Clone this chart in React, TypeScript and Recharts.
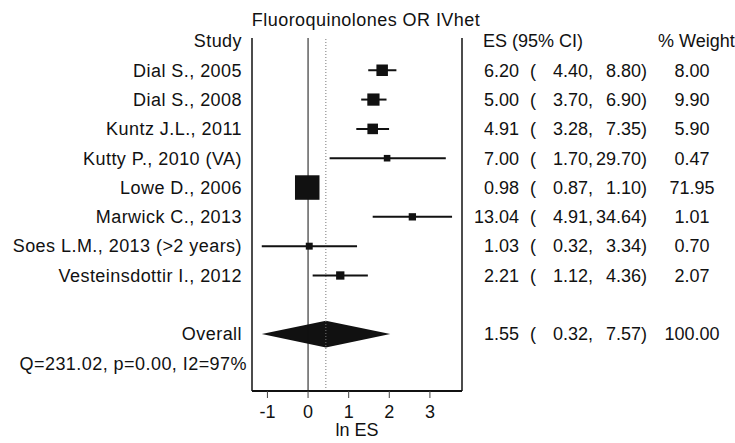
import { ScatterChart, Scatter, XAxis, YAxis, ReferenceLine, ReferenceArea } from 'recharts';

const studies = [
  'Dial S., 2005',
  'Dial S., 2008',
  'Kuntz J.L., 2011',
  'Kutty P., 2010 (VA)',
  'Lowe D., 2006',
  'Marwick C., 2013',
  'Soes L.M., 2013 (>2 years)',
  'Vesteinsdottir I., 2012',
];
const esValues = [6.2, 5.0, 4.91, 7.0, 0.98, 13.04, 1.03, 2.21];
const ciLower = [4.4, 3.7, 3.28, 1.7, 0.87, 4.91, 0.32, 1.12];
const ciUpper = [8.8, 6.9, 7.35, 29.7, 1.1, 34.64, 3.34, 4.36];
const weights = [8.0, 9.9, 5.9, 0.47, 71.95, 1.01, 0.7, 2.07];

const overallEs = 1.55;
const overallLower = 0.32;
const overallUpper = 7.57;
const overallWeight = 100;
const heterogeneity = 'Q=231.02, p=0.00, I2=97%';

const xTicks = [-1, 0, 1, 2, 3];

const FONT = '"Liberation Sans", Arial, Helvetica, sans-serif';
const INK = '#111';
const FONT_SIZE = 18;

// row 0 is the header, studies follow, one blank row, then overall and heterogeneity
const OVERALL_ROW = studies.length + 2;
const STAT_ROW = OVERALL_ROW + 1;
const rowTicks = Array.from({ length: STAT_ROW + 1 }, (_, i) => i);
const maxWeight = Math.max(...weights);

const points = studies.map((name, i) => ({
  name,
  lnEs: Math.log(esValues[i]),
  row: i + 1,
  weight: weights[i],
}));

const leftLabels: Record<number, string> = { 0: 'Study', [OVERALL_ROW]: 'Overall', [STAT_ROW]: heterogeneity };
studies.forEach((s, i) => { leftLabels[i + 1] = s; });

type Stat = { es: number; lo: number; hi: number; weight: number };
const rightStats: Record<number, Stat> = {
  [OVERALL_ROW]: { es: overallEs, lo: overallLower, hi: overallUpper, weight: overallWeight },
};
studies.forEach((_, i) => {
  rightStats[i + 1] = { es: esValues[i], lo: ciLower[i], hi: ciUpper[i], weight: weights[i] };
});

const textProps = { fontFamily: FONT, fontSize: FONT_SIZE, fill: INK, dy: '0.35em' };

function WeightSquare(props: any) {
  const { cx, cy, payload } = props;
  const side = 5 + 19.5 * Math.sqrt(payload.weight / maxWeight);
  return <rect x={cx - side / 2} y={cy - side / 2} width={side} height={side} fill={INK} />;
}

function Diamond(props: any) {
  const { x, y, width, height } = props;
  const lo = Math.log(overallLower);
  const hi = Math.log(overallUpper);
  const mid = x + (width * (Math.log(overallEs) - lo)) / (hi - lo);
  const pts = `${x},${y + height / 2} ${mid},${y} ${x + width},${y + height / 2} ${mid},${y + height}`;
  return <polygon points={pts} fill={INK} />;
}

function StudyTick(props: any) {
  const { x, y, payload } = props;
  const label = leftLabels[payload.value];
  if (!label) return null;
  const gap = payload.value === STAT_ROW ? 5 : 10;
  return (
    <text x={x - gap} y={y} textAnchor="end" letterSpacing={0.45} {...textProps}>
      {label}
    </text>
  );
}

function StatTick(props: any) {
  const { x, y, payload } = props;
  const row = payload.value;
  if (row === 0) {
    return (
      <g>
        <text x={x + 21} y={y} textAnchor="start" {...textProps}>ES (95% CI)</text>
        <text x={x + 196} y={y} textAnchor="start" {...textProps}>% Weight</text>
      </g>
    );
  }
  const st = rightStats[row];
  if (!st) return null;
  return (
    <g>
      <text x={x + 57} y={y} textAnchor="end" {...textProps}>{st.es.toFixed(2)}</text>
      <text x={x + 68} y={y} textAnchor="start" {...textProps}>(</text>
      <text x={x + 131} y={y} textAnchor="end" {...textProps}>{st.lo.toFixed(2)},</text>
      <text x={x + 185} y={y} textAnchor="end" {...textProps}>{st.hi.toFixed(2)})</text>
      <text x={x + 230} y={y} textAnchor="middle" {...textProps}>{st.weight.toFixed(2)}</text>
    </g>
  );
}

export default function App() {
  return (
    <div style={{ position: 'absolute', left: 0, top: 0, background: '#fff' }}>
      <ScatterChart width={735} height={443} margin={{ top: 38, right: 0, bottom: 0, left: 0 }}>
        <text x={366} y={26} textAnchor="middle" letterSpacing={0.45} fontFamily={FONT} fontSize={FONT_SIZE} fill={INK}>
          Fluoroquinolones OR IVhet
        </text>
        <XAxis
          type="number"
          dataKey="lnEs"
          domain={[-1.38, 3.79]}
          allowDataOverflow
          ticks={xTicks}
          interval={0}
          height={52}
          tickSize={7}
          tickMargin={7}
          axisLine={{ stroke: INK, strokeWidth: 2 }}
          tickLine={{ stroke: '#444' }}
          tick={{ fontFamily: FONT, fontSize: FONT_SIZE, fill: INK }}
          label={{ value: 'ln ES', position: 'insideBottom', offset: 7, fontFamily: FONT, fontSize: FONT_SIZE, fill: INK }}
        />
        <YAxis
          type="number"
          dataKey="row"
          domain={[-0.1, 11.94]}
          allowDataOverflow
          reversed
          ticks={rowTicks}
          interval={0}
          width={252}
          tickSize={0}
          tickMargin={0}
          tickLine={false}
          axisLine={{ stroke: INK, strokeWidth: 1.5 }}
          tick={<StudyTick />}
        />
        <YAxis
          yAxisId="right"
          orientation="right"
          type="number"
          domain={[-0.1, 11.94]}
          allowDataOverflow
          reversed
          ticks={rowTicks}
          interval={0}
          width={273}
          tickSize={0}
          tickMargin={0}
          tickLine={false}
          axisLine={{ stroke: INK, strokeWidth: 1.5 }}
          tick={<StatTick />}
        />
        <ReferenceLine x={0} stroke={INK} strokeWidth={1} />
        <ReferenceLine x={Math.log(overallEs)} stroke="#777" strokeWidth={1} strokeDasharray="1 2" />
        {points.map((p, i) => (
          <ReferenceLine
            key={p.name}
            segment={[
              { x: Math.log(ciLower[i]), y: p.row },
              { x: Math.log(ciUpper[i]), y: p.row },
            ]}
            stroke={INK}
            strokeWidth={2}
          />
        ))}
        <ReferenceArea
          x1={Math.log(overallLower)}
          x2={Math.log(overallUpper)}
          y1={OVERALL_ROW - 0.46}
          y2={OVERALL_ROW + 0.46}
          shape={<Diamond />}
        />
        <Scatter data={points} shape={<WeightSquare />} isAnimationActive={false} />
      </ScatterChart>
    </div>
  );
}
